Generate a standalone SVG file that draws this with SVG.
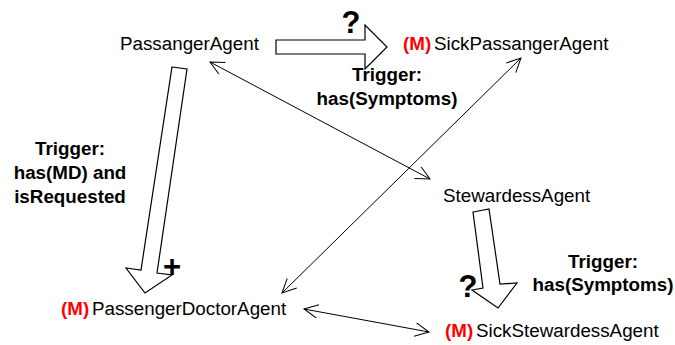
<svg xmlns="http://www.w3.org/2000/svg" width="675" height="345" viewBox="0 0 675 345">
<style>
text{font-family:"Liberation Sans",Arial,sans-serif;font-size:18.8px;fill:#000}
.m{fill:#ff0000;font-weight:bold}
.b{font-weight:bold;text-anchor:middle}
.q{font-weight:bold;font-size:31px;text-anchor:middle}
.blk{fill:#fff;stroke:#000;stroke-width:1.2;stroke-linejoin:miter}
.ln{fill:none;stroke:#000;stroke-width:1}
</style>
<defs>
<marker id="ah" viewBox="0 0 16 15" refX="14.5" refY="7" markerWidth="16" markerHeight="15" markerUnits="userSpaceOnUse" orient="auto-start-reverse">
<path d="M0.5,0.2 L14.5,7 L0.5,13.8" fill="none" stroke="#000" stroke-width="1"/>
</marker>
</defs>
<rect width="675" height="345" fill="#fff"/>
<g id="connectors">
<polygon class="blk" points="276,40 365,40 365,25 387,47 365,69 365,54 276,54"/>
<polygon class="blk" points="172,67 187,69 157,273 172,275 145,293 126,268 141,270"/>
<polygon class="blk" points="473,212 489,209 500,284 517,283 498,308 472,290 483,288"/>
<line class="ln" x1="210" y1="62" x2="430" y2="179" marker-start="url(#ah)" marker-end="url(#ah)"/>
<line class="ln" x1="521" y1="58" x2="282" y2="293" marker-start="url(#ah)" marker-end="url(#ah)"/>
<line class="ln" x1="304" y1="309" x2="429" y2="332" marker-start="url(#ah)" marker-end="url(#ah)"/>
<text class="q" x="351" y="33">?</text>
<text class="q" x="172" y="277">+</text>
<text class="q" x="468" y="297">?</text>
<text class="b" x="70" y="155">Trigger:</text>
<text class="b" x="70" y="179">has(MD) and</text>
<text class="b" x="70" y="203">isRequested</text>
<text class="b" x="387" y="81">Trigger:</text>
<text class="b" x="387" y="105">has(Symptoms)</text>
<text class="b" x="603" y="268">Trigger:</text>
<text class="b" x="603" y="291">has(Symptoms)</text>
</g>
<g id="PassangerAgent"><text x="120" y="50">PassangerAgent</text></g>
<g id="SickPassangerAgent"><text class="m" x="403" y="50">(M)</text><text x="434" y="50">SickPassangerAgent</text></g>
<g id="StewardessAgent"><text x="443" y="202">StewardessAgent</text></g>
<g id="PassengerDoctorAgent"><text class="m" x="61" y="315">(M)</text><text x="92" y="315">PassengerDoctorAgent</text></g>
<g id="SickStewardessAgent"><text class="m" x="445" y="337">(M)</text><text x="476" y="337">SickStewardessAgent</text></g>
</svg>
